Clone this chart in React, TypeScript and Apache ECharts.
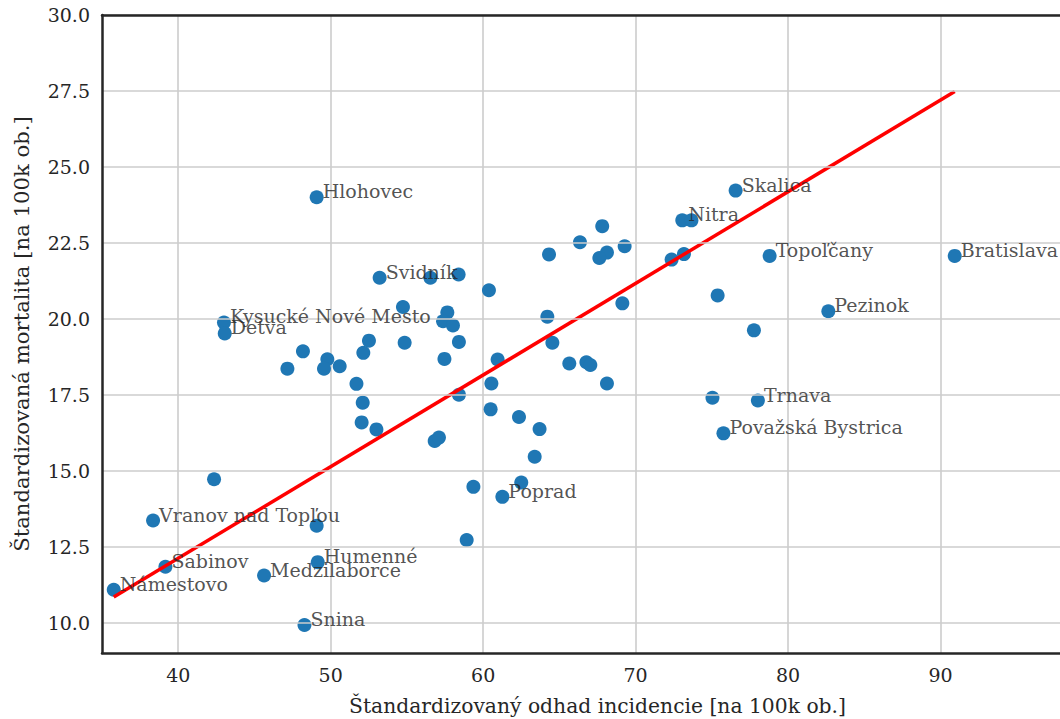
import React, { useEffect, useRef } from "react";
import * as echarts from "echarts";

const incidence = [
  35.77, 39.16, 38.35, 42.35, 45.63, 49.08, 49.15, 48.28, 49.08, 43.0,
  43.05, 53.21, 56.54, 58.39, 54.74, 57.65, 57.37, 58.02, 58.41, 54.85,
  57.46, 52.51, 52.14, 48.18, 49.78, 49.56, 50.59, 47.16, 51.69, 52.1,
  52.03, 53.0, 56.82, 57.1, 58.41, 60.38, 64.21, 64.54, 60.95, 60.54,
  60.49, 62.35, 63.7, 65.65, 66.77, 67.03, 68.12, 69.13, 64.32, 66.35,
  67.81, 68.12, 67.62, 69.28, 72.36, 73.17, 73.06, 73.66, 63.38, 59.36,
  62.5, 61.26, 58.92, 76.56, 78.79, 90.93, 75.38, 82.64, 77.76, 75.04,
  78.02, 75.76,
];
const mortality = [
  11.08, 11.84, 13.36, 14.72, 11.55, 13.19, 11.99, 9.92, 24.0, 19.88,
  19.52, 21.35, 21.35, 21.46, 20.39, 20.21, 19.92, 19.78, 19.24, 19.21,
  18.68, 19.28, 18.88, 18.93, 18.67, 18.36, 18.44, 18.36, 17.86, 17.24,
  16.59, 16.36, 15.98, 16.09, 17.5, 20.94, 20.07, 19.21, 18.66, 17.87,
  17.02, 16.77, 16.37, 18.53, 18.57, 18.48, 17.87, 20.51, 22.12, 22.52,
  23.05, 22.18, 22.0, 22.39, 21.95, 22.13, 23.24, 23.24, 15.46, 14.47,
  14.61, 14.14, 12.72, 24.22, 22.07, 22.07, 20.77, 20.25, 19.62, 17.4,
  17.31, 16.23,
];
const districtLabels = [
  "Námestovo", "Sabinov", "Vranov nad Topľou", "", "Medzilaborce", "", "Humenné", "Snina", "Hlohovec", "Kysucké Nové Mesto",
  "Detva", "Svidník", "", "", "", "", "", "", "", "",
  "", "", "", "", "", "", "", "", "", "",
  "", "", "", "", "", "", "", "", "", "",
  "", "", "", "", "", "", "", "", "", "",
  "", "", "", "", "", "", "Nitra", "", "", "",
  "", "Poprad", "", "Skalica", "Topoľčany", "Bratislava", "", "Pezinok", "", "",
  "Trnava", "Považská Bystrica",
];
const trendX = [35.77, 90.93];
const trendY = [10.84, 27.48];
const xTicks = [40, 50, 60, 70, 80, 90];
const yTicks = [10, 12.5, 15, 17.5, 20, 22.5, 25, 27.5, 30];

const FONT = "DejaVu Serif";
const TEXT = "#262626";
const SPINE = "#262626";

const tickRich = { t: { fontFamily: FONT, fontSize: 19, color: TEXT } };

export default function App() {
  const ref = useRef<HTMLDivElement>(null);
  useEffect(() => {
    if (!ref.current) return;
    const chart = echarts.init(ref.current, undefined, { renderer: "svg" });
    const points = incidence.map((x, i) => [x, mortality[i]]);
    const labelled = incidence
      .map((x, i) => ({ value: [x, mortality[i]], name: districtLabels[i] }))
      .filter((d) => d.name !== "");
    chart.setOption({
      animation: false,
      backgroundColor: "#ffffff",
      textStyle: { fontFamily: FONT, color: TEXT },
      grid: {
        left: 102,
        top: 15,
        height: 638,
        width: 991,
        show: false,
        containLabel: false,
        outerBoundsMode: "none",
      },
      xAxis: [
        {
          type: "value",
          min: 35,
          max: 100,
          name: "Štandardizovaný odhad incidencie [na 100k ob.]",
          nameLocation: "middle",
          nameGap: 43,
          nameTextStyle: { fontFamily: FONT, fontSize: 20.3, color: TEXT },
          axisLine: { show: true, onZero: false, lineStyle: { color: SPINE, width: 2.5 } },
          axisTick: { show: false, customValues: xTicks },
          axisLabel: {
            customValues: xTicks,
            fontFamily: FONT,
            fontSize: 19,
            color: TEXT,
            margin: 12,
            formatter: (v: number) => "{t|" + String(v) + "}",
            rich: tickRich,
          },
          splitLine: { show: true, lineStyle: { color: "#cccccc", width: 1.6 } },
          z: 1,
        },
        {
          type: "value",
          position: "top",
          min: 35,
          max: 100,
          axisLine: { show: true, onZero: false, lineStyle: { color: SPINE, width: 2.5 } },
          axisTick: { show: false },
          axisLabel: { show: false },
          splitLine: { show: false },
          z: 5,
        },
      ],
      yAxis: {
        type: "value",
        min: 9,
        max: 30,
        name: "Štandardizovaná mortalita [na 100k ob.]",
        nameLocation: "middle",
        nameGap: 70,
        nameRotate: 90,
        nameTextStyle: { fontFamily: FONT, fontSize: 21.2, color: TEXT },
        axisLine: { show: true, onZero: false, lineStyle: { color: SPINE, width: 2.5 } },
        axisTick: { show: false, customValues: yTicks },
        axisLabel: {
          customValues: yTicks,
          fontFamily: FONT,
          fontSize: 19,
          color: TEXT,
          margin: 12,
          formatter: (v: number) => "{t|" + v.toFixed(1) + "}",
          rich: tickRich,
        },
        splitLine: { show: true, lineStyle: { color: "#cccccc", width: 1.6 } },
        z: 4,
      },
      series: [
        {
          type: "scatter",
          data: points,
          symbolSize: 14,
          itemStyle: { color: "#1f77b4", opacity: 1 },
          silent: true,
          z: 2,
        },
        {
          type: "line",
          data: trendX.map((x, i) => [x, trendY[i]]),
          symbol: "none",
          lineStyle: { color: "#ff0000", width: 3.5 },
          silent: true,
          z: 3,
        },
        {
          type: "scatter",
          data: labelled,
          symbolSize: 14,
          itemStyle: { color: "rgba(0,0,0,0)" },
          silent: true,
          z: 4,
          label: {
            show: true,
            position: "right",
            distance: 0,
            formatter: (p: any) => p.name,
            fontFamily: FONT,
            fontSize: 19,
            color: TEXT,
          },
          labelLayout: { hideOverlap: false, dx: -1, dy: -6 },
        },
      ],
    });
    return () => chart.dispose();
  }, []);
  return <div ref={ref} style={{ width: 1060, height: 719, position: "absolute", left: 0, top: 0 }} />;
}
